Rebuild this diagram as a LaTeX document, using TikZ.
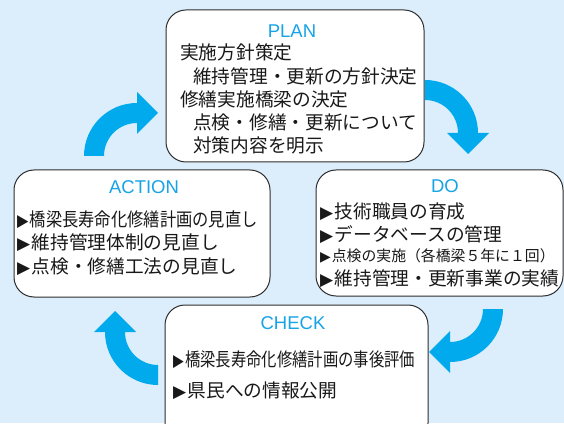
\documentclass[tikz,border=0pt]{standalone}
\usepackage{graphicx}
\usepackage{fontspec}
\setmainfont{Noto Sans CJK JP}
\newfontfamily\latfont{Liberation Sans}
\newfontfamily\symfont{DejaVu Sans}
\definecolor{bgblue}{RGB}{220,238,251}
\definecolor{cyanarrow}{RGB}{0,170,236}
\definecolor{titlecyan}{RGB}{22,164,230}
\definecolor{txt}{RGB}{25,25,25}
\definecolor{edge}{RGB}{45,45,45}
\newcommand\tri{{\symfont\fontsize{17}{17}\selectfont ▶}\hspace{1.5pt}}
\newcommand\trismall{{\symfont\fontsize{14}{14}\selectfont ▶}\hspace{1pt}}
\tikzset{
  box/.style={draw=edge, line width=1pt, fill=white, rounded corners=20pt},
  ttl/.style={font=\latfont\fontsize{18.5}{18.5}\selectfont, text=titlecyan, inner sep=0},
  item/.style={anchor=west, inner sep=0, text=txt, font=\fontsize{18.7}{18.7}\selectfont},
  cyanfill/.style={fill=cyanarrow},
  cyc/.pic={\fill[cyanfill] (-53pt,0pt) arc[start angle=180,end angle=90,radius=53pt]
     -- (0pt,64pt) -- (21pt,43pt) -- (0pt,22pt) -- (0pt,33pt)
     arc[start angle=90,end angle=180,radius=33pt] -- cycle;}
}
\begin{document}
\begin{tikzpicture}[x=1pt,y=1pt]
\useasboundingbox (0,0) rectangle (564,423);
\clip (0,0) rectangle (564,423);
\fill[bgblue] (0,0) rectangle (564,423);
% cycle arrows
\pic (arrTL) at (137,267) {cyc};
\pic[rotate=-90] (arrTR) at (425,290) {cyc};
\pic[rotate=180] (arrBR) at (450,114) {cyc};
\pic[rotate=90] (arrBL) at (158,91) {cyc};
% boxes
\draw[box] (166,261) rectangle (424,413);
\draw[box] (14,126) rectangle (270,253);
\draw[box] (316,127) rectangle (563,253);
\draw[box] (165,-20) rectangle (428,118);
% PLAN
\node[ttl] (plan) at (292,392) {PLAN};
\node[item] (p1) at (180,371) {実施方針策定};
\node[item] (p2) at (193,347) {維持管理・更新の方針決定};
\node[item] (p3) at (180,324) {修繕実施橋梁の決定};
\node[item] (p4) at (193,301) {点検・修繕・更新について};
\node[item] (p5) at (193,278) {対策内容を明示};
% ACTION
\node[ttl] (action) at (144,236) {ACTION};
\node[item] (a1) at (17,203) {\scalebox{0.87}[1]{\tri 橋梁長寿命化修繕計画の見直し}};
\node[item] (a2) at (17,180) {\tri 維持管理体制の見直し};
\node[item] (a3) at (17,156) {\tri 点検・修繕工法の見直し};
% DO
\node[ttl] (do) at (445,237) {DO};
\node[item] (d1) at (320,211) {\tri 技術職員の育成};
\node[item] (d2) at (320,188) {\tri データベースの管理};
\node[item, font=\fontsize{15}{15}\selectfont] (d3) at (320,167) {\scalebox{0.99}[1]{\trismall 点検の実施（各橋梁５年に１回）}};
\node[item] (d4) at (320,144) {\tri 維持管理・更新事業の実績};
% CHECK
\node[ttl] (check) at (293,100) {CHECK};
\node[item] (c1) at (173,63) {\scalebox{0.82}[1]{\tri 橋梁長寿命化修繕計画の事後評価}};
\node[item] (c2) at (173,32) {\tri 県民への情報公開};
\end{tikzpicture}
\end{document}
